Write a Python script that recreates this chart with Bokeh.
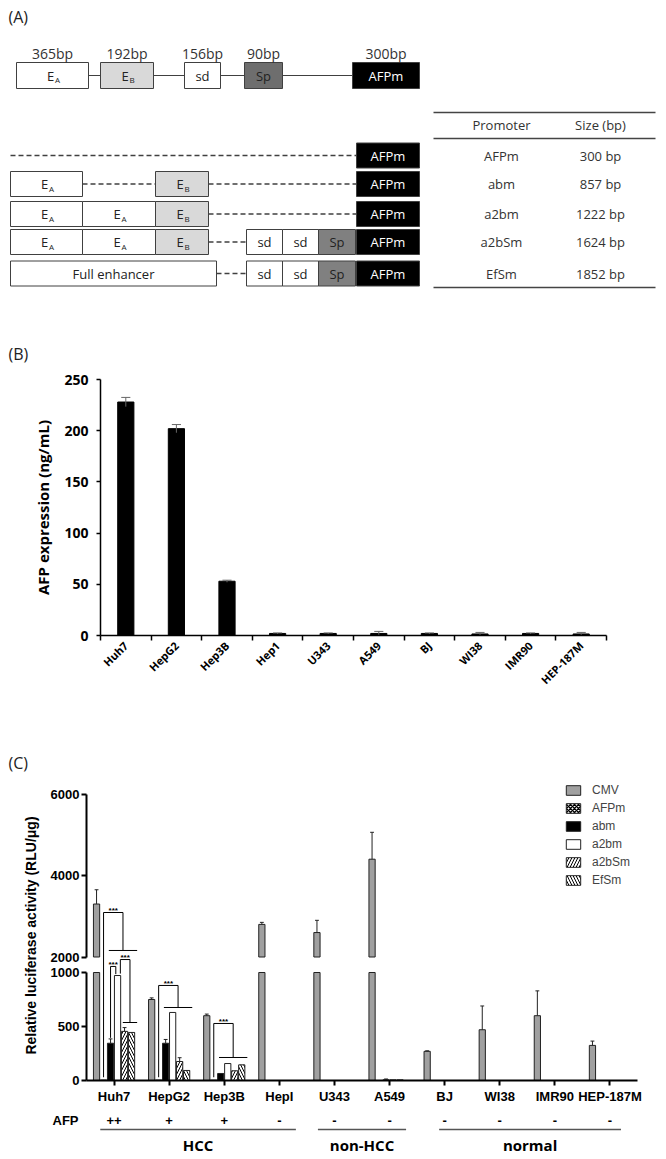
import math
from bokeh.plotting import figure
from bokeh.models import (Range1d, LinearAxis, FixedTicker, Legend, LegendItem)
from bokeh.layouts import column
from bokeh.core.properties import value
from bokeh.embed import file_html
from bokeh.resources import INLINE

# ======================= DATA =======================
# (A) promoter constructs
element_names = ["E_A", "E_B", "sd", "Sp", "AFPm"]
element_sizes_bp = [365, 192, 156, 90, 300]
construct_elements = [
    ["AFPm"],
    ["E_A", "E_B", "AFPm"],
    ["E_A", "E_A", "E_B", "AFPm"],
    ["E_A", "E_A", "E_B", "sd", "sd", "Sp", "AFPm"],
    ["Full enhancer", "sd", "sd", "Sp", "AFPm"],
]
promoter_names = ["AFPm", "abm", "a2bm", "a2bSm", "EfSm"]
promoter_sizes_bp = [300, 857, 1222, 1624, 1852]
table_header = ["Promoter", "Size (bp)"]

# (B) AFP expression
cells_b = ["Huh7", "HepG2", "Hep3B", "Hep1", "U343", "A549", "BJ", "WI38", "IMR90", "HEP-187M"]
afp_expression = [228, 202, 53, 2, 2, 2, 2, 1.5, 2, 1.5]
afp_expression_err = [4.5, 4, 1, 0.5, 0.5, 2, 0.5, 1.5, 0.5, 1.5]
b_ticks = [0, 50, 100, 150, 200, 250]

# (C) luciferase activity
cells_c = ["Huh7", "HepG2", "Hep3B", "HepI", "U343", "A549", "BJ", "WI38", "IMR90", "HEP-187M"]
afp_status = ["++", "+", "+", "-", "-", "-", "-", "-", "-", "-"]
group_names = ["HCC", "non-HCC", "normal"]
group_cells = [[0, 1, 2, 3], [4, 5], [6, 7, 8, 9]]
series_names = ["CMV", "AFPm", "abm", "a2bm", "a2bSm", "EfSm"]
luc_cmv = [3300, 750, 600, 2800, 2600, 4400, 270, 470, 600, 325]
luc_cmv_err = [350, 15, 15, 50, 300, 660, 5, 220, 230, 40]
luc_afpm = [4, 4, 3, 0, 0, 0, 0, 0, 0, 0]
luc_afpm_err = [0, 0, 0, 0, 0, 0, 0, 0, 0, 0]
luc_abm = [345, 345, 65, 0, 0, 6, 0, 0, 0, 0]
luc_abm_err = [40, 35, 0, 0, 0, 8, 0, 0, 0, 0]
luc_a2bm = [972, 630, 157, 0, 0, 6, 0, 0, 0, 0]
luc_a2bm_err = [0, 0, 0, 0, 0, 0, 0, 0, 0, 0]
luc_a2bsm = [455, 176, 90, 0, 0, 6, 0, 0, 0, 0]
luc_a2bsm_err = [35, 35, 0, 0, 0, 0, 0, 0, 0, 0]
luc_efsm = [445, 93, 145, 0, 0, 0, 0, 0, 0, 0]
luc_efsm_err = [0, 0, 0, 0, 0, 0, 0, 0, 0, 0]
c_ticks_low = [0, 500, 1000]
c_ticks_high = [2000, 4000, 6000]
break_low, break_high = 1000, 2000
sig_text = "***"
# significance brackets
# pair: (cell, left series pos, right series pos, top, left end, right end)
sig_pairs = [(0, 2.0, 2.75, 1056, 395, 985)]
# group: (cell, ref series pos, first, last, top, ref end (lower scale), group line, scale)
sig_groups = [
    (0, 1.0, 2, 5, 3092, 30, 2160, "top"),
    (0, 3.4, 4, 5, 1120, 990, 537, "default"),
    (1, 1.0, 2, 5, 880, 30, 676, "default"),
    (2, 1.0, 2, 5, 528, 30, 213, "default"),
]

# ======================= HELPERS =======================
FONT_A = "Open Sans"
ARIAL = "Liberation Sans"
PAGE_L, PAGE_R = 0, 666


def ptext(p, x, y, s, size, color="#222222", align="center", baseline="middle",
          font=FONT_A, style="normal", angle=0.0, y_range_name=None, y_offset=0):
    kw = dict(x=[x], y=[y], text=[s], text_font=value(font), text_font_size=size,
              text_color=color, text_align=align, text_baseline=baseline,
              text_font_style=style, angle=angle, y_offset=y_offset)
    if y_range_name:
        kw["y_range_name"] = y_range_name
    p.text(**kw)


def bare_figure(height, x_range, y_range):
    f = figure(width=PAGE_R - PAGE_L, height=height, x_range=x_range, y_range=y_range,
               min_border=0, toolbar_location=None, output_backend="svg")
    f.grid.visible = False
    f.outline_line_color = None
    return f


# ======================= PANEL A =======================
A_TOP, A_BOT = 0, 365
pa = bare_figure(A_BOT - A_TOP, Range1d(PAGE_L, PAGE_R), Range1d(A_BOT, A_TOP))
pa.axis.visible = False

fills = {"E_A": "white", "E_B": "#d9d9d9", "sd": "white", "Sp": "#808080",
         "AFPm": "black", "Full enhancer": "white"}
LINE_A = "#404040"


def element_label(p, name, cx_, cy_):
    if name.startswith("E_"):
        ptext(p, cx_ - 2, cy_, "E", "13px")
        ptext(p, cx_ + 2.5, cy_ + 4, name[2:], "8px", align="left")
    else:
        ptext(p, cx_, cy_, name, "13px", color="white" if name == "AFPm" else "#222222")


top_slots = [(16, 88), (100, 153), (184, 220), (244, 282), (352, 419)]
top_y0, top_y1 = 62, 88
top_cy = (top_y0 + top_y1) / 2
pa.line([top_slots[0][1], top_slots[-1][0]], [top_cy, top_cy], line_color=LINE_A, line_width=1.2)
for name, bp, (x0, x1) in zip(element_names, element_sizes_bp, top_slots):
    fc = "#6e6e6e" if name == "Sp" else fills[name]
    pa.quad(left=[x0], right=[x1], top=[top_y0], bottom=[top_y1], fill_color=fc,
            line_color=LINE_A, line_width=1)
    element_label(pa, name, (x0 + x1) / 2, top_cy)
    ptext(pa, (x0 + x1) / 2, 53, f"{bp}bp", "14px", color="#333333")

row_slots = [
    [(356, 419)],
    [(10, 82), (155, 208), (356, 419)],
    [(10, 82), (82, 155), (155, 208), (356, 419)],
    [(10, 82), (82, 155), (155, 208), (246, 282), (282, 318), (318, 355), (356, 419)],
    [(10, 216), (246, 282), (282, 318), (318, 355), (356, 419)],
]
row_cy = [155, 183.5, 213.5, 241.5, 273]
row_hh = 12.5
for r, (elems, slots) in enumerate(zip(construct_elements, row_slots)):
    ry = row_cy[r]
    if len(slots) == 1:
        pa.line([10, slots[0][0]], [ry, ry], line_color=LINE_A, line_width=1.3, line_dash="5 3")
    for a, b in zip(slots[:-1], slots[1:]):
        if b[0] - a[1] > 2:
            pa.line([a[1], b[0]], [ry, ry], line_color=LINE_A, line_width=1.3, line_dash="5 3")
    for name, (x0, x1) in zip(elems, slots):
        pa.quad(left=[x0], right=[x1], top=[ry - row_hh], bottom=[ry + row_hh],
                fill_color=fills[name], line_color=LINE_A, line_width=1)
        element_label(pa, name, (x0 + x1) / 2, ry)

tx0, tx1 = 433, 655
for ly in [112, 138, 287]:
    pa.line([tx0, tx1], [ly, ly], line_color="#444444", line_width=1.3)
col_x = [501, 600]
ptext(pa, col_x[0], 124, table_header[0], "13px", color="#333333")
ptext(pa, col_x[1], 124, table_header[1], "13px", color="#333333")
for ry, pn, ps in zip(row_cy, promoter_names, promoter_sizes_bp):
    ptext(pa, col_x[0], ry, pn, "13px", color="#333333")
    ptext(pa, col_x[1], ry, f"{ps} bp", "13px", color="#333333")

ptext(pa, 8, 16, "(A)", "16px", color="#222222", align="left")
ptext(pa, 8, 353, "(B)", "16px", color="#222222", align="left")

# ======================= PANEL B =======================
B_TOP, B_BOT = 365, 690
B_X0, B_KX = 100, 50.6      # page x of x=-0.5, px per category
B_Y0, B_KY = 635, 1.024     # page y of value 0, px per unit
xr_b = Range1d(-0.5 - (B_X0 - PAGE_L) / B_KX, -0.5 + (PAGE_R - B_X0) / B_KX)
yr_b = Range1d(-(B_BOT - B_Y0) / B_KY, (B_Y0 - B_TOP) / B_KY)
pb = bare_figure(B_BOT - B_TOP, xr_b, yr_b)

xb = list(range(len(cells_b)))
pb.vbar(x=xb, top=afp_expression, width=0.32, fill_color="black", line_color="black")
lo = [v - e for v, e in zip(afp_expression, afp_expression_err)]
hi = [v + e for v, e in zip(afp_expression, afp_expression_err)]
pb.segment(x0=xb, y0=lo, x1=xb, y1=hi, line_color="#666666", line_width=1)
pb.segment(x0=[x - 0.09 for x in xb], y0=hi, x1=[x + 0.09 for x in xb], y1=hi,
           line_color="#666666", line_width=1)

yb = pb.yaxis[0]
yb.fixed_location = -0.5
yb.ticker = FixedTicker(ticks=b_ticks)
yb.bounds = (b_ticks[0], b_ticks[-1])
yb.axis_label = "AFP expression (ng/mL)"
yb.axis_label_text_font = FONT_A
yb.axis_label_text_font_style = "bold"
yb.axis_label_text_font_size = "15px"
yb.axis_label_text_color = "black"
yb.axis_label_standoff = 8
yb.major_label_text_font = FONT_A
yb.major_label_text_font_style = "bold"
yb.major_label_text_font_size = "14px"
yb.major_label_text_color = "black"
yb.major_label_standoff = 8
yb.major_tick_out = 4
yb.major_tick_in = 0
yb.minor_tick_out = 0
yb.minor_tick_in = 0
yb.axis_line_width = 1.5
yb.major_tick_line_width = 1.5

xbx = pb.xaxis[0]
xbx.fixed_location = 0
xbx.bounds = (-0.5, len(cells_b) - 0.5)
xbx.ticker = FixedTicker(ticks=xb, minor_ticks=[x - 0.5 for x in xb] + [xb[-1] + 0.5])
xbx.major_label_overrides = {i: c for i, c in enumerate(cells_b)}
xbx.major_tick_out = 0
xbx.major_tick_in = 0
xbx.minor_tick_out = 5
xbx.minor_tick_in = 0
xbx.minor_tick_line_width = 1.5
xbx.minor_tick_line_color = "black"
xbx.axis_line_width = 1.5
xbx.major_label_orientation = math.pi / 4
xbx.major_label_text_font = FONT_A
xbx.major_label_text_font_style = "bold"
xbx.major_label_text_font_size = "11px"
xbx.major_label_text_color = "black"
xbx.major_label_standoff = 3

# ======================= PANEL C =======================
C_TOP, C_BOT = 690, 1159
C_X0, C_KX = 86, 55.1        # page x of x=-0.5, px per category
C_Y0, C_KY = 1080, 0.108     # page y of value 0 (lower scale), px per unit
C_T0, C_KT = 956.5, 0.04075  # page y of value 2000 (upper scale), px per unit
xr_c = Range1d(-0.5 - (C_X0 - PAGE_L) / C_KX, -0.5 + (PAGE_R - C_X0) / C_KX)
ymain = Range1d(-(C_BOT - C_Y0) / C_KY, (C_Y0 - C_TOP) / C_KY)
ytop = Range1d(break_high - (C_BOT - C_T0) / C_KT, break_high + (C_T0 - C_TOP) / C_KT)
pc = bare_figure(C_BOT - C_TOP, xr_c, ymain)
pc.extra_y_ranges = {"top": ytop}


def cx(page_x):
    return -0.5 + (page_x - C_X0) / C_KX


def cy(page_y):
    return (C_Y0 - page_y) / C_KY


def main_to_top(m):
    frac = (m - ymain.start) / (ymain.end - ymain.start)
    return ytop.start + frac * (ytop.end - ytop.start)


step = 0.127
bar_w = 0.113


def xpos(i, s):
    return i + (s - 2.5) * step


series_vals = [luc_cmv, luc_afpm, luc_abm, luc_a2bm, luc_a2bsm, luc_efsm]
series_errs = [luc_cmv_err, luc_afpm_err, luc_abm_err, luc_a2bm_err, luc_a2bsm_err, luc_efsm_err]
series_style = [
    dict(fill_color="#a0a0a0"),
    dict(fill_color="white", hatch_pattern="x", hatch_scale=4, hatch_weight=1.5, hatch_color="black"),
    dict(fill_color="black"),
    dict(fill_color="white"),
    dict(fill_color="white", hatch_pattern="/", hatch_scale=6, hatch_weight=1, hatch_color="black"),
    dict(fill_color="white", hatch_pattern="\\", hatch_scale=6, hatch_weight=1, hatch_color="black"),
]
legend_items = []
for j, (name, vals, errs, sty) in enumerate(zip(series_names, series_vals, series_errs, series_style)):
    idx = [i for i, v in enumerate(vals) if v > 0]
    r = pc.vbar(x=[xpos(i, j) for i in idx], bottom=0, top=[min(vals[i], break_low) for i in idx],
                width=bar_w, line_color="#222222", line_width=1, **sty)
    legend_items.append(LegendItem(label=name, renderers=[r]))
    hidx = [i for i, v in enumerate(vals) if v > break_high]
    if hidx:
        pc.vbar(x=[xpos(i, j) for i in hidx], bottom=break_high, top=[vals[i] for i in hidx],
                width=bar_w, line_color="#222222", line_width=1, y_range_name="top", **sty)
    for i in idx:
        if errs[i] <= 0:
            continue
        x = xpos(i, j)
        v0, v1 = vals[i], vals[i] + errs[i]
        rn = "top" if vals[i] > break_high else "default"
        pc.segment(x0=[x, x - 0.035], y0=[v0, v1], x1=[x, x + 0.035], y1=[v1, v1],
                   line_color="#222222", line_width=1, y_range_name=rn)

for (i, sl, sr, top, le, re_) in sig_pairs:
    xl, xr = xpos(i, sl), xpos(i, sr)
    pc.line([xl, xl, xr, xr], [le, top, top, re_], line_color="black", line_width=1)
    ptext(pc, (xl + xr) / 2, top, sig_text, "8px", color="black", font=ARIAL,
          style="bold", y_offset=-2)
for (i, sref, g0, g1, top, ref_end, gline, rn) in sig_groups:
    xl = xpos(i, sref)
    gl, gr = xpos(i, g0 - 0.25), xpos(i, g1 + 0.8)
    xm = (gl + gr) / 2
    end = main_to_top(ref_end) if rn == "top" else ref_end
    pc.multi_line(xs=[[xl, xl, xm, xm], [gl, gr]], ys=[[end, top, top, gline], [gline, gline]],
                  line_color="black", line_width=1, y_range_name=rn)
    ptext(pc, (xl + xm) / 2, top, sig_text, "8px", color="black", font=ARIAL,
          style="bold", y_offset=-2, y_range_name=(rn if rn == "top" else None))

# axes
ya = pc.yaxis[0]
ya.fixed_location = -0.5
ya.ticker = FixedTicker(ticks=c_ticks_low)
ya.bounds = (c_ticks_low[0], c_ticks_low[-1])
ya_top = LinearAxis(y_range_name="top", ticker=FixedTicker(ticks=c_ticks_high),
                    bounds=(c_ticks_high[0], c_ticks_high[-1]), fixed_location=-0.5)
pc.add_layout(ya_top, "left")
for ax in (ya, ya_top):
    ax.axis_line_width = 2
    ax.major_tick_line_width = 2
    ax.major_tick_out = 5
    ax.major_tick_in = 0
    ax.minor_tick_out = 0
    ax.minor_tick_in = 0
    ax.major_label_standoff = 2
    ax.major_label_text_font = ARIAL
    ax.major_label_text_font_style = "bold"
    ax.major_label_text_font_size = "13px"
    ax.major_label_text_color = "black"

xc = pc.xaxis[0]
xc.fixed_location = 0
xc.bounds = (-0.5, len(cells_c) - 0.5)
xc.ticker = FixedTicker(ticks=list(range(len(cells_c))))
xc.major_label_overrides = {i: c for i, c in enumerate(cells_c)}
xc.axis_line_width = 2
xc.major_tick_line_width = 2
xc.major_tick_out = 5
xc.major_tick_in = 0
xc.minor_tick_out = 0
xc.minor_tick_in = 0
xc.major_label_standoff = 3
xc.major_label_text_font = ARIAL
xc.major_label_text_font_style = "bold"
xc.major_label_text_font_size = "13px"
xc.major_label_text_color = "black"

legend = Legend(items=legend_items, location=(564 - PAGE_L, C_BOT - 887), padding=0, margin=0,
                spacing=4, glyph_width=18, glyph_height=12, label_height=12, label_standoff=10,
                label_text_font=ARIAL, label_text_font_size="12px",
                border_line_color=None, background_fill_alpha=0)
pc.add_layout(legend)

# texts around panel C (placed in page pixels through the panel's scales)
ptext(pc, cx(8), cy(762), "(C)", "16px", color="#222222", align="left")
ptext(pc, cx(30), cy(935), "Relative luciferase activity (RLU/\u03bcg)", "14px",
      color="black", font=ARIAL, style="bold", angle=math.pi / 2)
ptext(pc, cx(52), cy(1120), "AFP", "13px", color="black", font=ARIAL, style="bold", align="left")
for i, s in enumerate(afp_status):
    ptext(pc, i, cy(1120), s, "13px", color="black", font=ARIAL, style="bold")
group_pad = [(0.25, 0.3), (0.3, 0.3), (0.1, 0.2)]
for gname, members, (pl, pr) in zip(group_names, group_cells, group_pad):
    x0, x1 = members[0] - pl, members[-1] + pr
    pc.line([x0, x1], [cy(1129), cy(1129)], line_color="#555555", line_width=1.5)
    ptext(pc, (x0 + x1) / 2, cy(1144), gname, "15px", color="black", style="bold")

layout = column(pa, pb, pc, spacing=0)
open("out.html", "w").write(file_html(layout, INLINE))
